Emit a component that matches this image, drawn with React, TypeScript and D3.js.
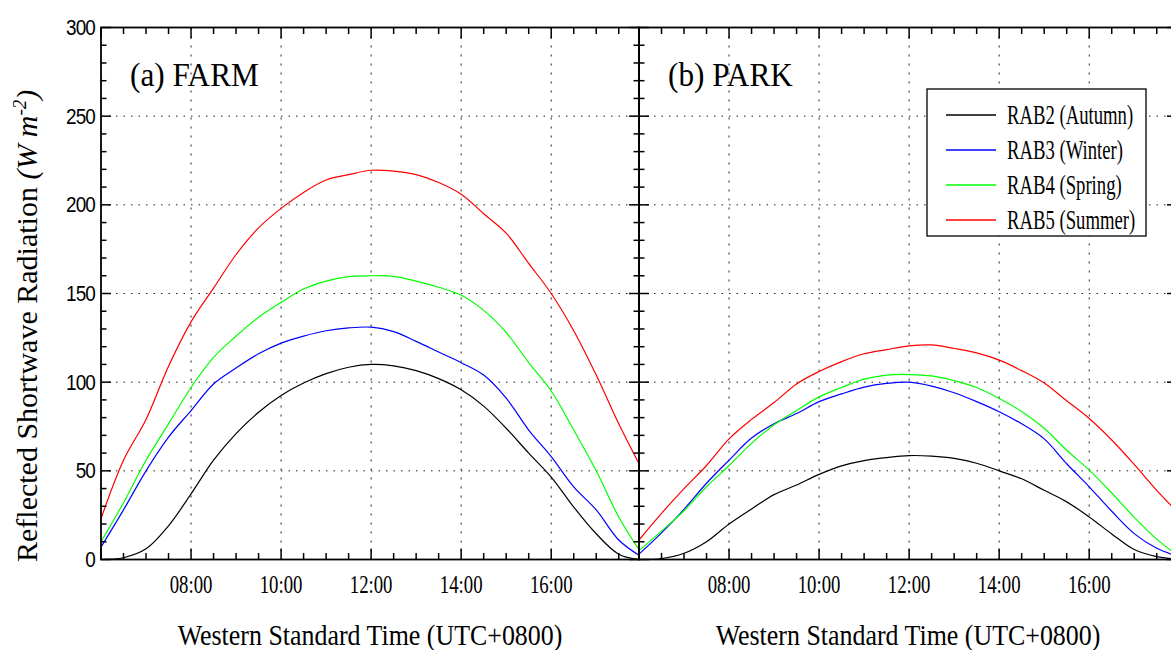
import React from "react";
import * as d3 from "d3";

// half-hourly times (decimal hours, local time)
const hours = [6, 6.5, 7, 7.5, 8, 8.5, 9, 9.5, 10, 10.5, 11, 11.5, 12, 12.5, 13, 13.5, 14, 14.5, 15, 15.5, 16, 16.5, 17, 17.5, 17.95];

// (a) FARM
const farmAutumn = [0, 1, 6, 19, 37, 56, 71, 83, 92.5, 99.5, 104.8, 108.4, 110, 109.2, 106.5, 102, 95.7, 86.5, 74, 60, 46.5, 29.6, 14.5, 3, 0];
const farmWinter = [7, 28, 50, 69, 84, 99, 108, 116, 122, 126, 129, 130.6, 131, 128.5, 123, 117, 111, 104, 91, 73, 58, 41, 28, 11, 2.4];
const farmSpring = [10, 32, 56, 76.5, 97, 114, 126, 136.6, 145, 152.5, 157, 159.5, 160, 159.7, 157, 153.5, 149, 140.5, 128, 111, 95, 73, 50, 24, 5.6];
const farmSummer = [23, 56, 79, 109, 134, 153, 172, 187, 198, 207, 214, 217, 219.5, 219, 217, 212.6, 206, 195, 184, 167, 150, 129, 104, 76.5, 54];

// (b) PARK
const parkAutumn = [0, 0.5, 3.5, 10, 20, 28.5, 36.6, 42, 48, 52.8, 55.8, 57.5, 58.6, 58.3, 57, 54.3, 50, 45.5, 39, 32.5, 24, 14.4, 5.6, 1.6, 0.3];
const parkWinter = [3, 15, 28.3, 43, 56, 68.5, 76.5, 82.3, 89, 93.4, 97.2, 99.3, 100, 97.8, 94, 89, 83.3, 76.5, 68, 54, 41, 27.2, 14.6, 6.3, 2];
const parkSpring = [5, 16, 27.5, 41, 53, 65.5, 76, 84, 91.7, 97, 101.7, 104, 104.3, 103.5, 100.8, 97, 90.8, 83.5, 74, 61.6, 50.4, 37.5, 23.8, 11.5, 2.5];
const parkSummer = [11, 26, 40, 53, 68, 79, 88.5, 99, 106, 111.6, 116, 118.4, 120.5, 121, 119, 116.5, 112.4, 106.5, 99.5, 89.5, 79.5, 67.4, 53.6, 39, 27];

const seriesNames = ["RAB2 (Autumn)", "RAB3 (Winter)", "RAB4 (Spring)", "RAB5 (Summer)"];
const seriesColors = ["#000000", "#0000ff", "#00ff00", "#ff0000"];
const panelLabels = ["(a) FARM", "(b) PARK"];
const xTickLabels = ["08:00", "10:00", "12:00", "14:00", "16:00"];
const yTickLabels = [0, 50, 100, 150, 200, 250, 300];

const xTitle = "Western Standard Time (UTC+0800)";

// layout
const W = 1171;
const H = 650;
const plotTop = 27.5;
const plotBottom = 559.5;
const panelW = 538;
const panelX = [101, 639];

const serif = "Liberation Serif, Times New Roman, serif";
const sans = "Liberation Sans, Arial, sans-serif";

const Panel = ({ x0, label, series, showY }) => {
  const xScale = d3.scaleLinear().domain([6, 17.95]).range([x0, x0 + panelW]);
  const yScale = d3.scaleLinear().domain([0, 300]).range([plotBottom, plotTop]);

  const line = d3
    .line()
    .x((d, i) => xScale(hours[i]))
    .y(d => yScale(d))
    .curve(d3.curveCatmullRom.alpha(0.5));

  const xMinor = d3.range(6, 18, 0.5);
  const yMinor = d3.range(0, 301, 10);
  const xLab = xTickLabels.map(s => +s.slice(0, 2));
  const x1 = x0 + panelW;

  return (
    <g>
      {/* grid */}
      {[50, 100, 150, 200, 250].map(v => (
        <line key={"gy" + v} x1={x0} x2={x1} y1={yScale(v)} y2={yScale(v)}
          stroke="#222" strokeWidth={1} strokeDasharray="1.5,6" />
      ))}
      {xLab.map(t => (
        <line key={"gx" + t} x1={xScale(t)} x2={xScale(t)} y1={plotTop} y2={plotBottom}
          stroke="#222" strokeWidth={1} strokeDasharray="2,7" />
      ))}

      {/* data */}
      {series.map((s, i) => (
        <path key={i} d={line(s)} fill="none" stroke={seriesColors[i]} strokeWidth={1.2} />
      ))}

      {/* frame */}
      <rect x={x0} y={plotTop} width={panelW} height={plotBottom - plotTop}
        fill="none" stroke="#000" strokeWidth={1.8} />

      {/* x ticks, bottom and top */}
      {xMinor.map(t => {
        const len = t % 2 === 0 ? 11 : 6.5;
        const x = xScale(t);
        return (
          <g key={"xt" + t}>
            <line x1={x} x2={x} y1={plotBottom} y2={plotBottom - len} stroke="#000" strokeWidth={1.5} />
            <line x1={x} x2={x} y1={plotTop} y2={plotTop + len} stroke="#000" strokeWidth={1.5} />
          </g>
        );
      })}
      {/* y ticks, left and right */}
      {yMinor.map(v => {
        const len = v % 50 === 0 ? 10 : 5.5;
        const y = yScale(v);
        return (
          <g key={"yt" + v}>
            <line x1={x0} x2={x0 + len} y1={y} y2={y} stroke="#000" strokeWidth={1.5} />
            <line x1={x1} x2={x1 - len} y1={y} y2={y} stroke="#000" strokeWidth={1.5} />
          </g>
        );
      })}

      {/* x tick labels */}
      {xTickLabels.map((s, i) => (
        <text key={s} transform={`translate(${xScale(xLab[i])},593) scale(0.75,1)`}
          textAnchor="middle" fontFamily={serif} fontSize={25}>{s}</text>
      ))}

      {/* y tick labels */}
      {showY && yTickLabels.map(v => (
        <text key={"yl" + v} transform={`translate(${x0 - 6},${yScale(v) + 7.5}) scale(0.88,1)`}
          textAnchor="end" fontFamily={sans} fontSize={21.5} letterSpacing={-1}>{v}</text>
      ))}

      {/* panel label */}
      <text transform={`translate(${x0 + 29},86) scale(0.92,1)`} fontFamily={serif} fontSize={34}>{label}</text>

      {/* x axis title */}
      <text transform={`translate(${(x0 + x1) / 2},645) scale(0.85,1)`} textAnchor="middle"
        fontFamily={serif} fontSize={30.5}>{xTitle}</text>
    </g>
  );
};

const Legend = () => {
  const lx = 927, ly = 89;
  return (
    <g>
      <rect x={lx} y={ly} width={219} height={147} fill="#fff" stroke="#000" strokeWidth={1.3} />
      {seriesNames.map((name, i) => {
        const y = 115 + i * 35;
        return (
          <g key={name}>
            <line x1={946} x2={996} y1={y} y2={y} stroke={seriesColors[i]} strokeWidth={1.5} />
            <text transform={`translate(1007,${y + 8.5}) scale(0.68,1)`} fontFamily={serif} fontSize={27.5}>{name}</text>
          </g>
        );
      })}
    </g>
  );
};

export default function App() {
  const farm = [farmAutumn, farmWinter, farmSpring, farmSummer];
  const park = [parkAutumn, parkWinter, parkSpring, parkSummer];

  return (
    <svg width={W} height={H} style={{ position: "absolute", left: 0, top: 0, background: "#fff" }}>
      <rect x={0} y={0} width={W} height={H} fill="#fff" />
      <Panel x0={panelX[0]} label={panelLabels[0]} series={farm} showY={true} />
      <Panel x0={panelX[1]} label={panelLabels[1]} series={park} showY={false} />
      <Legend />
      <text transform="translate(37,562) rotate(-90)" fontFamily={serif} fontSize={30}>
        Reflected Shortwave Radiation{" "}
        <tspan fontStyle="italic">(W m</tspan>
        <tspan fontStyle="italic" fontSize={19} dy={-11}>-2</tspan>
        <tspan fontStyle="italic" dy={11}>)</tspan>
      </text>
    </svg>
  );
}
